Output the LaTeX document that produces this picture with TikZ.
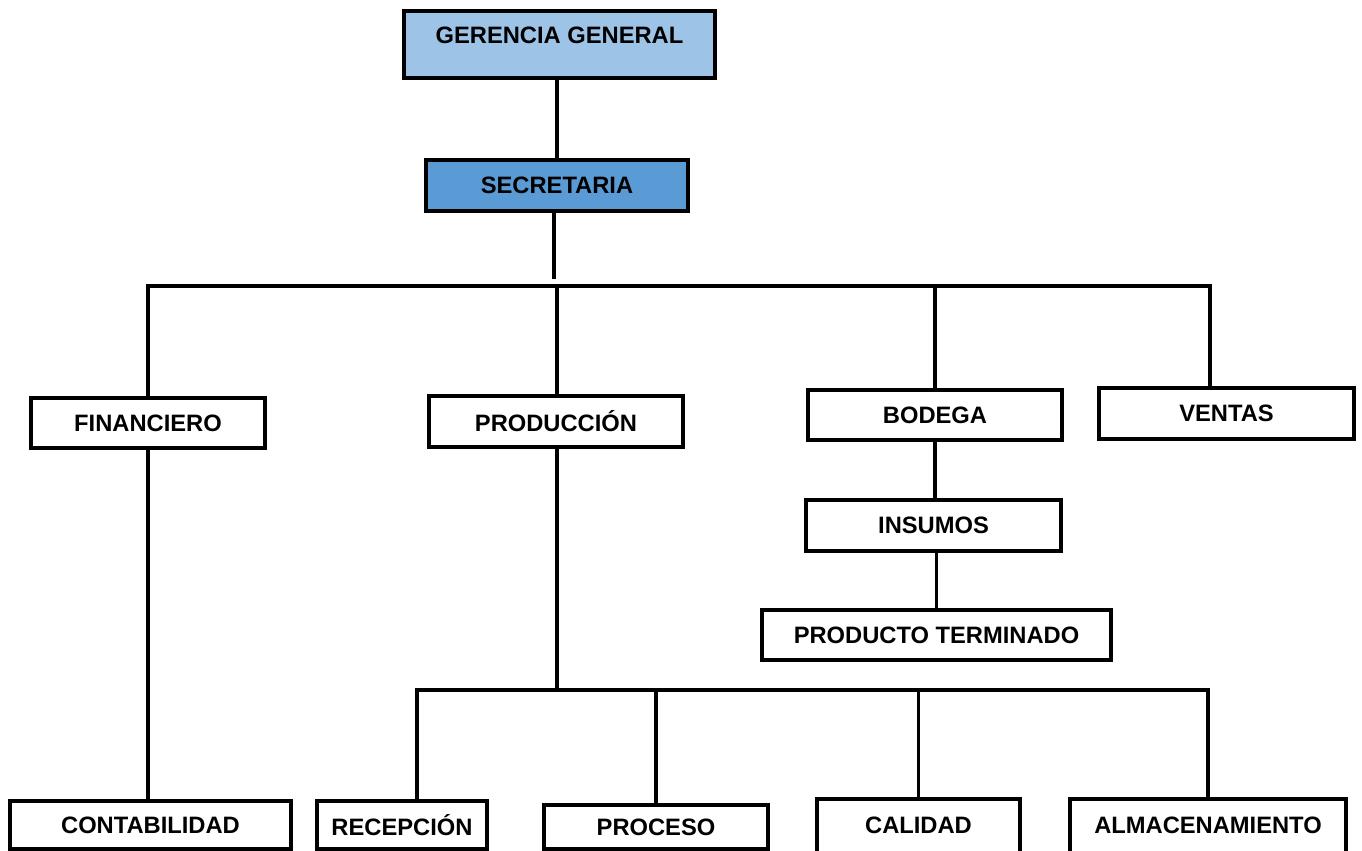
\documentclass[tikz,border=0pt]{standalone}
\usepackage{fontspec}
\setmainfont{Liberation Sans}
\usepackage{tikz}
\usetikzlibrary{positioning, calc}

\definecolor{azulclaro}{HTML}{9DC3E6}
\definecolor{azulmedio}{HTML}{5B9BD5}

\begin{document}
\begin{tikzpicture}[x=0.02cm, y=-0.02cm,
    caja/.style={draw=black, line width=2.2pt, fill=white, align=center,
      font=\bfseries\fontsize{13.5}{16}\selectfont},
    linea/.style={draw=black, line width=2.1pt}]
    \useasboundingbox (0,0) rectangle (1362,851);

    % Direccion
    \node[caja, fill=azulclaro, minimum width=6.22cm, minimum height=1.34cm, text depth=0.38cm] (ger) at (559.5, 44.5) {GERENCIA GENERAL};
    \node[caja, fill=azulmedio, minimum width=5.24cm, minimum height=1.02cm] (sec) at (557, 185.5) {SECRETARIA};

    % Departamentos
    \node[caja, minimum width=4.68cm, minimum height=1.0cm] (fin) at (148, 423) {FINANCIERO};
    \node[caja, minimum width=5.08cm, minimum height=1.02cm] (prod) at (556, 421.5) {PRODUCCIÓN};
    \node[caja, minimum width=5.08cm, minimum height=1.0cm] (bod) at (935, 415) {BODEGA};
    \node[caja, minimum width=5.1cm, minimum height=1.02cm] (ven) at (1226.5, 413.5) {VENTAS};

    % Bodega
    \node[caja, minimum width=5.1cm, minimum height=1.02cm] (ins) at (933.5, 525.5) {INSUMOS};
    \node[caja, minimum width=6.98cm, minimum height=1.0cm] (pt) at (936.5, 635) {PRODUCTO TERMINADO};

    % Secciones inferiores
    \node[caja, minimum width=5.62cm, minimum height=0.96cm] (cont) at (150.5, 825) {CONTABILIDAD};
    \node[caja, minimum width=3.4cm, minimum height=0.96cm] (rec) at (402, 825) {RECEPCIÓN};
    \node[caja, minimum width=4.48cm, minimum height=0.88cm] (proc) at (656, 827) {PROCESO};
    \node[caja, minimum width=4.06cm, minimum height=1.28cm, text depth=0.24cm] (cal) at (918.5, 831) {CALIDAD};
    \node[caja, minimum width=5.52cm, minimum height=1.28cm, text depth=0.24cm] (alm) at (1208, 831) {ALMACENAMIENTO};

    % Conectores superiores
    \coordinate (b1) at (557, 286);
    \coordinate (s1) at (554, 279);
    \coordinate (v1) at (1210, 286);
    \draw[linea] (sec.north |- ger.south) -- (sec.north);
    \draw[linea] (sec.south -| s1) -- (s1);
    \draw[linea] (fin.north) |- (v1) -- (v1 |- ven.north);
    \draw[linea] (b1) -- (b1 |- prod.north);
    \draw[linea] (b1 -| bod.north) -- (bod.north);

    % Bodega
    \draw[linea] (bod.south) -- (bod.south |- ins.north);
    \draw[linea] (ins.south -| pt.north) -- (pt.north);

    % Financiero
    \draw[linea] (fin.south) -- (fin.south |- cont.north);

    % Produccion
    \coordinate (b2) at (557, 690);
    \coordinate (r1) at (417, 690);
    \draw[linea] (prod.south -| b2) -- (b2);
    \draw[linea] (r1 |- rec.north) |- (b2) -| (alm.north);
    \draw[linea] (b2 -| proc.north) -- (proc.north);
    \draw[linea] (b2 -| cal.north) -- (cal.north);
\end{tikzpicture}
\end{document}
